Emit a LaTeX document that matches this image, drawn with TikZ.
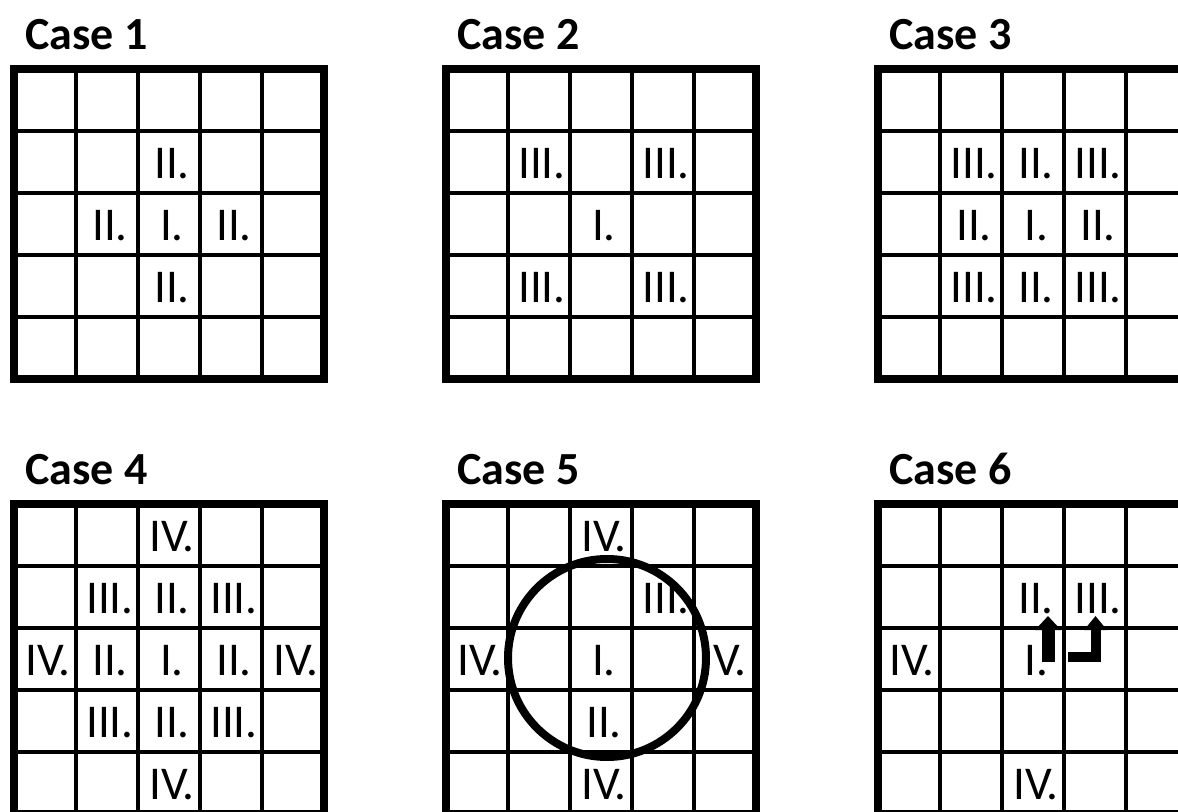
\documentclass[tikz,border=0pt]{standalone}
\usepackage{fontspec}
\setmainfont{Carlito}
\usetikzlibrary{arrows.meta}
\definecolor{CaseInk}{HTML}{000000}
\tikzset{
  case grid/.style={CaseInk,line width=2pt},
  case frame/.style={CaseInk,line width=4pt,line join=miter},
  case title/.style={anchor=base west,inner sep=0pt,text=CaseInk,
    font=\fontsize{23}{27}\selectfont\bfseries},
  cell label/.style={inner sep=0pt,text=CaseInk,xshift=1.5pt,yshift=-1pt,
    font=\fontsize{23.5}{27}\selectfont},
  move arrow/.style={CaseInk,line join=miter,
    -{Triangle[width=#1,length=7pt]}},
}
\begin{document}
\begin{tikzpicture}[x=0.5pt,y=-0.5pt]
        \useasboundingbox (0,0) rectangle (1178,812);
        \clip (0,0) rectangle (1178,812);

        % the six 5x5 boards
        \foreach \n/\gx/\gy in {1/14/69,2/446/69,3/878/69,
          4/14/504,5/446/504,6/878/504}{
          \foreach \k in {1,...,4}{
            \draw[case grid] (\gx+62*\k,\gy) -- (\gx+62*\k,\gy+310);
            \draw[case grid] (\gx,\gy+62*\k) -- (\gx+310,\gy+62*\k);
          }
          \draw[case frame] (\gx,\gy) rectangle (\gx+310,\gy+310);
          \node[case title] (title\n) at (\gx+11,\gy-19) {Case \n};
        }

        % Case 1
        \foreach \cx/\cy/\lbl in {3/2/II.,2/3/II.,3/3/I.,4/3/II.,3/4/II.}{
          \node[cell label] (one-\cx\cy) at (14+62*\cx-31,69+62*\cy-31) {\lbl};
        }
        % Case 2
        \foreach \cx/\cy/\lbl in {2/2/III.,4/2/III.,3/3/I.,2/4/III.,4/4/III.}{
          \node[cell label] (two-\cx\cy) at (446+62*\cx-31,69+62*\cy-31) {\lbl};
        }
        % Case 3
        \foreach \cx/\cy/\lbl in {2/2/III.,3/2/II.,4/2/III.,2/3/II.,3/3/I.,
          4/3/II.,2/4/III.,3/4/II.,4/4/III.}{
          \node[cell label] (three-\cx\cy) at (878+62*\cx-31,69+62*\cy-31) {\lbl};
        }
        % Case 4
        \foreach \cx/\cy/\lbl in {3/1/IV.,2/2/III.,3/2/II.,4/2/III.,1/3/IV.,
          2/3/II.,3/3/I.,4/3/II.,5/3/IV.,2/4/III.,3/4/II.,4/4/III.,3/5/IV.}{
          \node[cell label] (four-\cx\cy) at (14+62*\cx-31,504+62*\cy-31) {\lbl};
        }
        % Case 5
        \foreach \cx/\cy/\lbl in {3/1/IV.,4/2/III.,1/3/IV.,3/3/I.,
          3/4/II.,3/5/IV.}{
          \node[cell label] (five-\cx\cy) at (446+62*\cx-31,504+62*\cy-31) {\lbl};
        }
        \node[cell label,xshift=-2pt] (five-53) at (725,659) {IV.};
        \draw[CaseInk,line width=4pt] (607,658) circle[radius=99];
        % Case 6
        \foreach \cx/\cy/\lbl in {3/2/II.,4/2/III.,1/3/IV.,3/3/I.,3/5/IV.}{
          \node[cell label] (six-\cx\cy) at (878+62*\cx-31,504+62*\cy-31) {\lbl};
        }
        \coordinate (six-tail-a) at (1048,662);
        \coordinate (six-head-a) at (1048,616);
        \coordinate (six-tail-b) at (1068,656.5);
        \coordinate (six-head-b) at (1095.5,616);
        \draw[move arrow=12.5pt,line width=6.5pt] (six-tail-a) -- (six-head-a);
        \draw[move arrow=11pt,line width=5pt] (six-tail-b) -| (six-head-b);
      \end{tikzpicture}
\end{document}
